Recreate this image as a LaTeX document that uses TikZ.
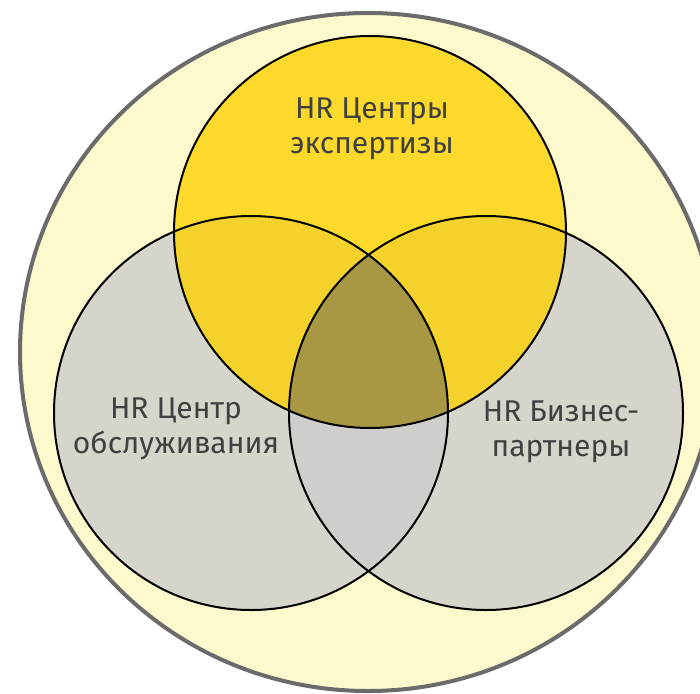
\documentclass[tikz,border=0pt]{standalone}
\usepackage{fontspec}
\setmainfont{Fira Sans}
\definecolor{paleyellow}{HTML}{FEF9CD}
\definecolor{ringgray}{HTML}{6B6B6B}
\definecolor{sunyellow}{HTML}{FDD92B}
\definecolor{mixyellow}{HTML}{F5D22B}
\definecolor{softgray}{HTML}{D5D5CC}
\definecolor{lensgray}{HTML}{CFCECB}
\definecolor{olive}{HTML}{A89843}
\definecolor{labelgray}{HTML}{404040}
\tikzset{
  venn/.style={draw=black, line width=2pt},
  vennlabel/.style={text=labelgray, align=center, font={\fontsize{30}{35}\selectfont}}
}
\begin{document}
\begin{tikzpicture}[x=1pt,y=1pt]
  \useasboundingbox (0,0) rectangle (700,-693);
  \clip (0,0) rectangle (700,-693);
  \coordinate (whole) at (368,-352);
  \coordinate (expertC) at (370,-232);
  \coordinate (serviceC) at (251,-413);
  \coordinate (partnerC) at (486,-413);
  % outer field
  \fill[paleyellow] (whole) ellipse [x radius=348, y radius=339];
  \draw[ringgray, line width=4pt] (whole) ellipse [x radius=348, y radius=339];
  % circles
  \fill[softgray] (serviceC) circle [radius=197];
  \fill[softgray] (partnerC) circle [radius=197];
  \fill[sunyellow] (expertC) circle [radius=196];
  \begin{scope}
    \clip (expertC) circle [radius=196];
    \fill[mixyellow] (serviceC) circle [radius=197];
    \fill[mixyellow] (partnerC) circle [radius=197];
  \end{scope}
  \begin{scope}
    \clip (serviceC) circle [radius=197];
    \fill[lensgray] (partnerC) circle [radius=197];
    \clip (partnerC) circle [radius=197];
    \fill[olive] (expertC) circle [radius=196];
  \end{scope}
  \draw[venn] (serviceC) circle [radius=197];
  \draw[venn] (partnerC) circle [radius=197];
  \draw[venn] (expertC) circle [radius=196];
  % labels
  \node[vennlabel] (expert) at (372,-129) {HR Центры\\экспертизы};
  \node[vennlabel] (service) at (176,-429) {HR Центр\\обслуживания};
  \node[vennlabel] (partner) at (561,-432) {HR Бизнес-\\партнеры};
\end{tikzpicture}
\end{document}
